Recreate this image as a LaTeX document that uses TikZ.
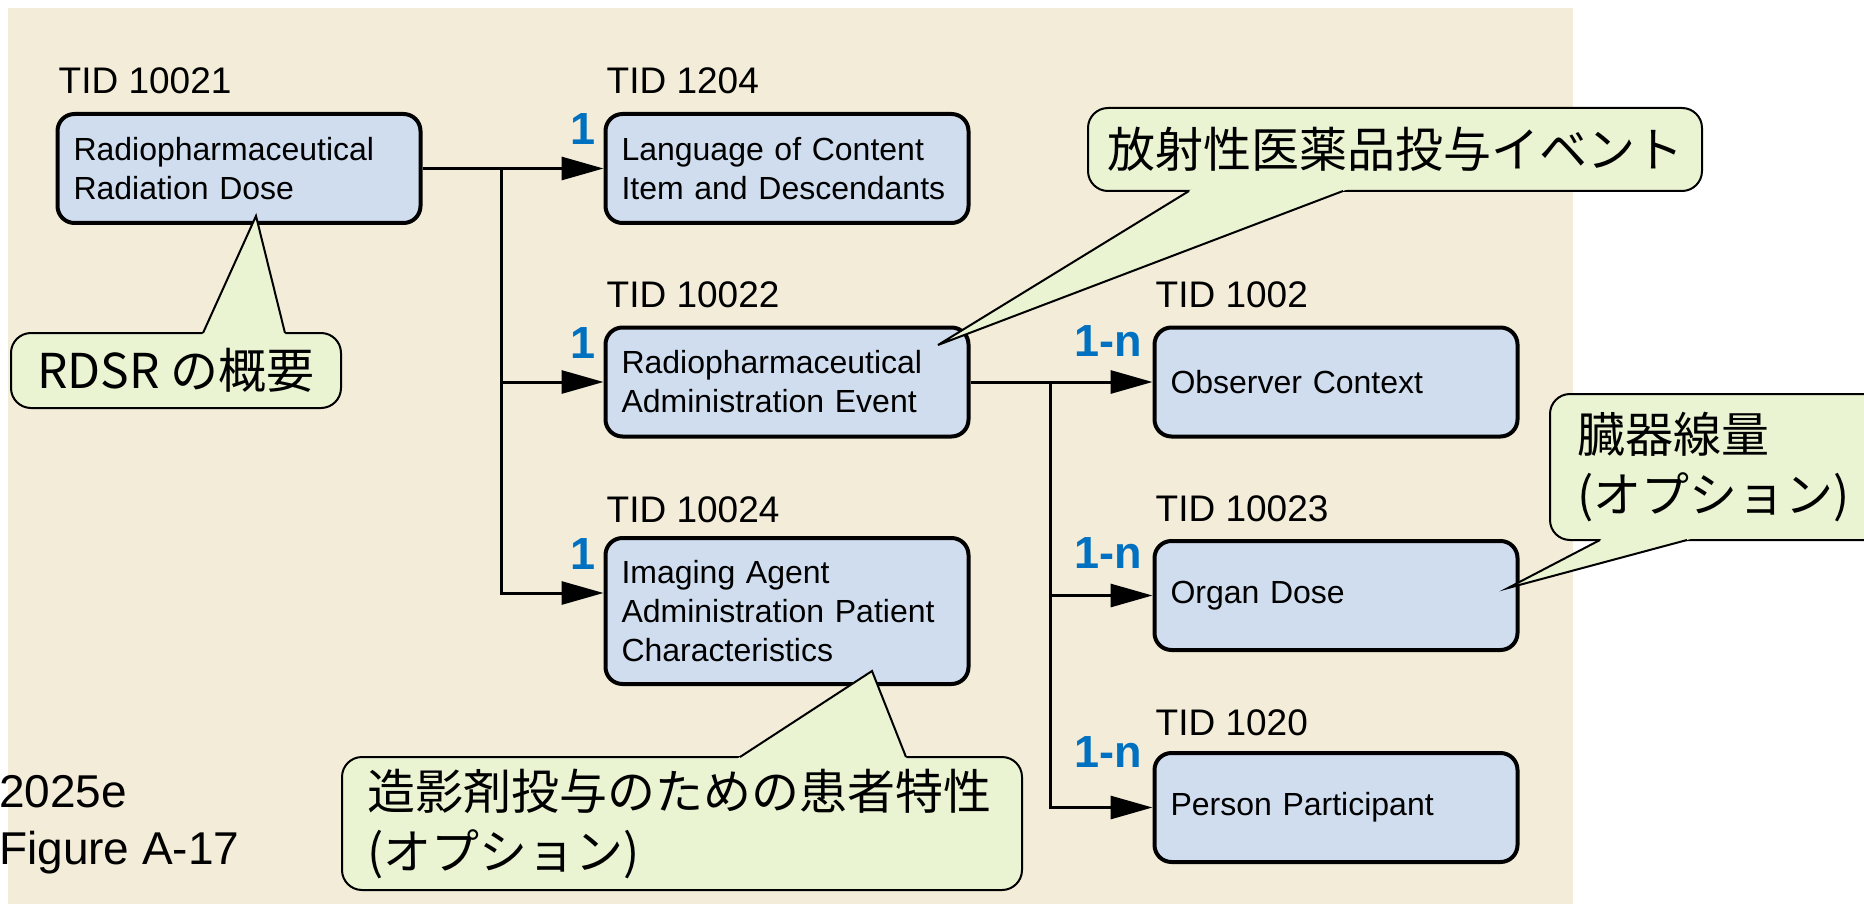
\documentclass[tikz,border=0pt]{standalone}
\usepackage{fontspec}
\setmainfont{Liberation Sans}
\newfontfamily\cjk{Noto Sans CJK JP}
\usepackage{xcolor}
\usetikzlibrary{positioning,calc,arrows.meta}

\definecolor{panel}{HTML}{F2ECD8}
\definecolor{tidfill}{HTML}{D0DDEE}
\definecolor{notefill}{HTML}{EAF4D3}
\definecolor{multblue}{HTML}{0070C0}

\tikzset{
  tid/.style={draw, line width=4pt, rounded corners=17pt, fill=tidfill,
    minimum width=363pt, minimum height=109pt, text width=331pt,
    inner xsep=16pt, align=left, font=\fontsize{32}{39}\selectfont},
  tidname/.style={inner sep=0pt, font=\fontsize{37}{44}\selectfont},
  mult/.style={inner sep=0pt, text=multblue, font=\bfseries\fontsize{45}{54}\selectfont},
  flow/.style={line width=3pt, -{Triangle[length=42pt,width=23pt]}},
  note/.style={draw, line width=2pt, rounded corners=20pt, fill=notefill,
    inner sep=0pt, font=\cjk\fontsize{48}{60}\selectfont},
}

% pointer of a callout: base point, tip, base point
\newcommand{\calltail}[3]{%
  \fill[notefill] (#2) -- ($(#2)!1.1!(#1)$) -- ($(#2)!1.1!(#3)$) -- cycle;
  \draw[line width=2pt] (#1) -- (#2) -- (#3);}

\begin{document}
\begin{tikzpicture}[x=1pt, y=-1pt]
\useasboundingbox (0,0) rectangle (1864,904);
\fill[panel] (8,8) rectangle (1573,904);

% templates
\node[tid] (t10021) at (239,168.5) {Radiopharmaceutical\\Radiation Dose};
\node[tid, right=181pt of t10021] (t1204) {Language of Content\\Item and Descendants};
\node[tid, below=100.5pt of t1204] (t10022) {Radiopharmaceutical\\Administration Event};
\node[tid, below=97.5pt of t10022, minimum height=146pt] (t10024) {Imaging Agent\\Administration Patient\\Characteristics};
\node[tid, right=182pt of t10022] (t1002) {Observer Context};
\node[tid, below=100.5pt of t1002] (t10023) {Organ Dose};
\node[tid, below=99pt of t10023] (t1020) {Person Participant};

% template ids
\node[tidname, above right=18pt and 3pt of t10021.north west, anchor=base west] (l10021) {TID 10021};
\node[tidname, above right=18pt and 3pt of t1204.north west, anchor=base west] (l1204) {TID 1204};
\node[tidname, above right=18pt and 3pt of t10022.north west, anchor=base west] (l10022) {TID 10022};
\node[tidname, above right=14pt and 3pt of t10024.north west, anchor=base west] (l10024) {TID 10024};
\node[tidname, above right=18pt and 3pt of t1002.north west, anchor=base west] (l1002) {TID 1002};
\node[tidname, above right=18pt and 3pt of t10023.north west, anchor=base west] (l10023) {TID 10023};
\node[tidname, above right=16pt and 3pt of t1020.north west, anchor=base west] (l1020) {TID 1020};

% branches
\coordinate[right=79pt of t10021.east] (j1);
\coordinate[right=80pt of t10022.east] (j2);
\draw[flow] (t10021.east) -- (t1204.west);
\draw[flow] (j1) |- (t10022.west);
\draw[flow] (j1) |- ([yshift=18pt]t10024.west);
\draw[flow] (t10022.east) -- (t1002.west);
\draw[flow] (j2) |- (t10023.west);
\draw[flow] (j2) |- (t1020.west);

% multiplicity
\node[mult, below left=33pt and 8pt of t1204.north west, anchor=base east] (m1204) {1};
\node[mult, below left=33pt and 8pt of t10022.north west, anchor=base east] (m10022) {1};
\node[mult, below left=33pt and 8pt of t10024.north west, anchor=base east] (m10024) {1};
\node[mult, below left=31pt and 10pt of t1002.north west, anchor=base east] (m1002) {1-n};
\node[mult, below left=29pt and 10pt of t10023.north west, anchor=base east] (m10023) {1-n};
\node[mult, below left=16pt and 10pt of t1020.north west, anchor=base east] (m1020) {1-n};

% callouts
\node[note, minimum width=330pt, minimum height=75pt] (rdsr) at (176,370.5) {RDSR の概要};
\calltail{203,333}{256,216}{285,333}
\node[note, minimum width=614pt, minimum height=83pt] (evt) at (1395,149.5) {放射性医薬品投与イベント};
\calltail{1189,191}{938,345}{1343,191}
\node[note, text width=286pt, inner xsep=27pt, minimum height=146pt, align=left] (organ) at (1720,467) {臓器線量\\(オプション)};
\calltail{1600,540}{1508,588}{1687,540}
\node[note, text width=630pt, inner xsep=25pt, minimum height=133pt, align=left] (agent) at (682,823.5) {造影剤投与のための患者特性\\(オプション)};
\calltail{740,757}{872,671}{906,757}

\node[anchor=north west, inner sep=0pt, align=left, font=\fontsize{46}{57}\selectfont] (figref) at (-1,775) {2025e\\Figure A-17};
\end{tikzpicture}
\end{document}
